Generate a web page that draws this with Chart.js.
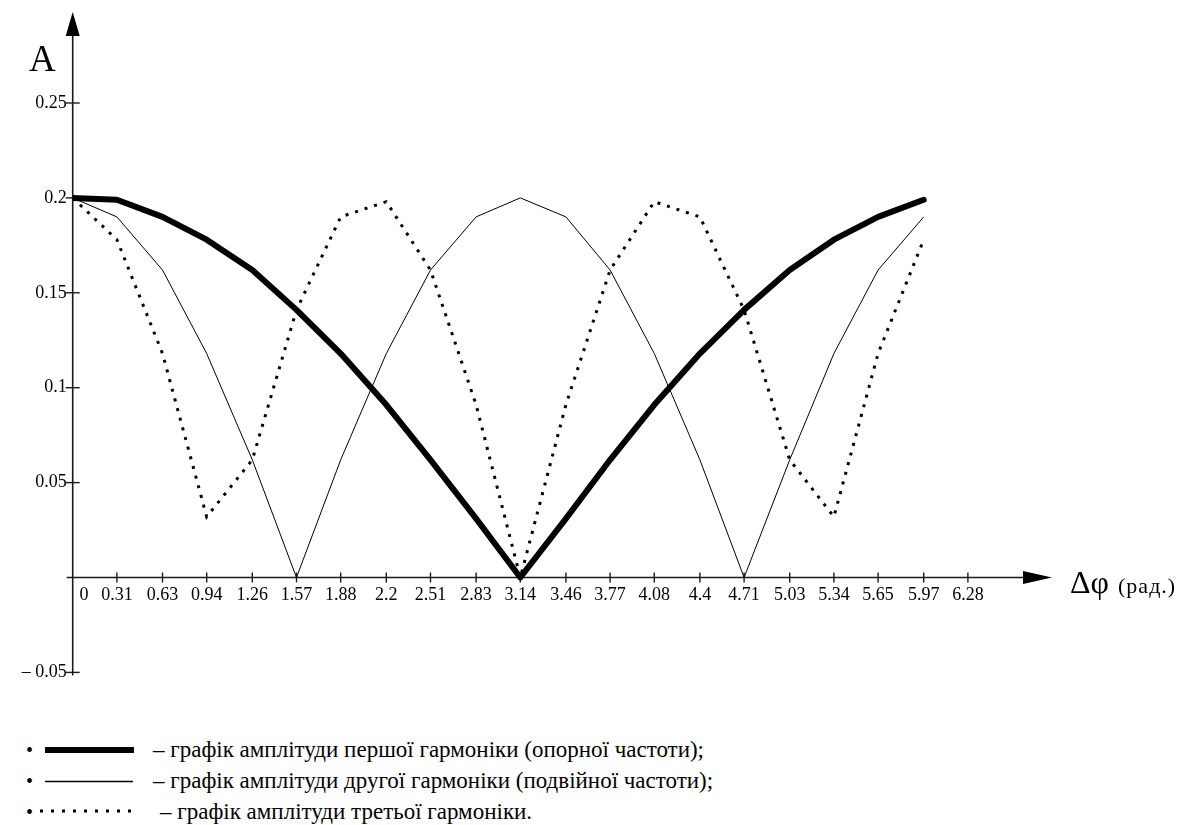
<!DOCTYPE html>
<html lang="uk">
<head>
<meta charset="utf-8">
<title>Амплітуди гармонік</title>
<script src="https://cdn.jsdelivr.net/npm/chart.js@4.4.1/dist/chart.umd.min.js"></script>
<style>
  html, body { margin: 0; padding: 0; background: #fff; }
  body {
    width: 1190px; height: 825px; position: relative; overflow: hidden;
    font-family: "Liberation Serif", "DejaVu Serif", serif; color: #000;
  }
  #chart { position: absolute; left: 0; top: 0; }
  .axis-name { position: absolute; line-height: 1; white-space: nowrap; }
  #nameA { left: 29px; top: 40px; font-size: 37px; }
  #namePhi { left: 1070px; top: 566px; font-size: 32px; }
  #namePhi span { font-size: 22px; letter-spacing: 1px; margin-left: 9px; }
  .row { position: absolute; left: 0; height: 30px; width: 1000px; white-space: nowrap; font-size: 23px; line-height: 30px; }
  .row .dot { position: absolute; left: 26px; top: 0; font-size: 20px; }
  .row svg { position: absolute; left: 0; top: 0; }
  .row .txt { position: absolute; top: 0; }
</style>
</head>
<body>
<canvas id="chart" width="1190" height="700"></canvas>
<div class="axis-name" id="nameA">A</div>
<div class="axis-name" id="namePhi">Δφ<span>(рад.)</span></div>
<div id="legend"></div>

<script>
// фазовий зсув, рад.
const phaseShift = [0, 0.31, 0.63, 0.94, 1.26, 1.57, 1.88, 2.2, 2.51, 2.83, 3.14, 3.46, 3.77, 4.08, 4.4, 4.71, 5.03, 5.34, 5.65, 5.97];
// амплітуди гармонік
const firstHarmonic = [0.2, 0.199, 0.19, 0.178, 0.162, 0.141, 0.118, 0.091, 0.062, 0.031, 0, 0.031, 0.062, 0.091, 0.118, 0.141, 0.162, 0.178, 0.19, 0.199];
const secondHarmonic = [0.2, 0.19, 0.162, 0.118, 0.062, 0, 0.062, 0.118, 0.162, 0.19, 0.2, 0.19, 0.162, 0.118, 0.062, 0, 0.062, 0.118, 0.162, 0.19];
const thirdHarmonic = [0.2, 0.178, 0.118, 0.032, 0.062, 0.141, 0.19, 0.198, 0.162, 0.091, 0, 0.091, 0.162, 0.198, 0.19, 0.141, 0.062, 0.032, 0.118, 0.178];
// підписи осей
const xTicks = [0, 0.31, 0.63, 0.94, 1.26, 1.57, 1.88, 2.2, 2.51, 2.83, 3.14, 3.46, 3.77, 4.08, 4.4, 4.71, 5.03, 5.34, 5.65, 5.97, 6.28];
const yTicks = [-0.05, 0.05, 0.1, 0.15, 0.2, 0.25];
const seriesNames = [
  "графік амплітуди першої гармоніки (опорної частоти);",
  "графік амплітуди другої гармоніки (подвійної частоти);",
  "графік амплітуди третьої гармоніки."
];

const toPoints = (ys) => phaseShift.map((x, i) => ({ x: x, y: ys[i] }));

// осі зі стрілками, що перетинаються в нулі
const crossAxes = {
  id: "crossAxes",
  beforeDatasetsDraw(chart) {
    const ctx = chart.ctx;
    const xs = chart.scales.x;
    const ys = chart.scales.y;
    const x0 = xs.getPixelForValue(0);
    const y0 = ys.getPixelForValue(0);
    ctx.save();
    ctx.strokeStyle = "#1a1a1a";
    ctx.fillStyle = "#000";
    ctx.lineWidth = 1.6;

    // горизонтальна вісь
    ctx.beginPath();
    ctx.moveTo(x0 - 6, y0);
    ctx.lineTo(xs.right - 20, y0);
    ctx.stroke();
    ctx.beginPath();
    ctx.moveTo(xs.right + 2, y0);
    ctx.lineTo(xs.right - 27, y0 - 6.5);
    ctx.lineTo(xs.right - 27, y0 + 6.5);
    ctx.closePath();
    ctx.fill();

    // вертикальна вісь
    const yBottom = ys.getPixelForValue(-0.05) + 3;
    ctx.beginPath();
    ctx.moveTo(x0, yBottom);
    ctx.lineTo(x0, ys.top + 16);
    ctx.stroke();
    ctx.beginPath();
    ctx.moveTo(x0, ys.top + 2);
    ctx.lineTo(x0 - 7, ys.top + 26);
    ctx.lineTo(x0 + 7, ys.top + 26);
    ctx.closePath();
    ctx.fill();

    // риски
    ctx.lineWidth = 1.4;
    xs.ticks.forEach((t) => {
      if (t.value === 0) return;
      const px = xs.getPixelForValue(t.value);
      ctx.beginPath();
      ctx.moveTo(px, y0 - 5);
      ctx.lineTo(px, y0 + 5);
      ctx.stroke();
    });
    ys.ticks.forEach((t) => {
      const py = ys.getPixelForValue(t.value);
      ctx.beginPath();
      ctx.moveTo(x0 - 7, py);
      ctx.lineTo(x0 + 7, py);
      ctx.stroke();
    });
    ctx.restore();
  }
};

const tickFont = { family: "'Liberation Serif', serif", size: 18 };

new Chart(document.getElementById("chart"), {
  type: "line",
  data: {
    datasets: [
      {
        label: seriesNames[0],
        data: toPoints(firstHarmonic),
        borderColor: "#000",
        borderWidth: 6,
        borderJoinStyle: "round",
        borderCapStyle: "round"
      },
      {
        label: seriesNames[1],
        data: toPoints(secondHarmonic),
        borderColor: "#000",
        borderWidth: 1
      },
      {
        label: seriesNames[2],
        data: toPoints(thirdHarmonic),
        borderColor: "#000",
        borderWidth: 3,
        borderDash: [3, 7],
        borderCapStyle: "butt"
      }
    ]
  },
  options: {
    responsive: false,
    animation: false,
    events: [],
    layout: { padding: { left: 0, right: 140, top: 10, bottom: 15 } },
    elements: { point: { radius: 0 }, line: { tension: 0, fill: false } },
    plugins: { legend: { display: false }, tooltip: { enabled: false } },
    scales: {
      x: {
        type: "linear",
        position: { y: 0 },
        min: 0,
        max: 6.856,
        border: { display: false },
        grid: { display: false, drawTicks: false },
        afterBuildTicks: (s) => { s.ticks = xTicks.map((v) => ({ value: v })); },
        afterFit: (s) => { s.height = 0; s.paddingLeft = 0; s.paddingRight = 0; },
        ticks: {
          autoSkip: false,
          maxRotation: 0,
          padding: 7,
          color: "#000",
          font: tickFont,
          callback: (v) => (v === 0 ? "     0" : String(v))
        }
      },
      y: {
        type: "linear",
        position: "left",
        min: -0.05664,
        max: 0.299,
        border: { display: false },
        grid: { display: false, drawTicks: false },
        afterBuildTicks: (s) => { s.ticks = yTicks.map((v) => ({ value: v })); },
        afterFit: (s) => { s.width = 72.7; s.paddingTop = 0; s.paddingBottom = 0; },
        ticks: {
          padding: 6,
          color: "#000",
          font: tickFont,
          callback: (v) => (v < 0 ? "– " + Math.abs(v) : String(v))
        }
      }
    }
  },
  plugins: [crossAxes]
});

// легенда під графіком
const legendRows = [
  { top: 735, line: '<line x1="45" y1="15" x2="134" y2="15" stroke="#000" stroke-width="6"/>', textLeft: 153 },
  { top: 766, line: '<line x1="45" y1="15.5" x2="133" y2="15.5" stroke="#000" stroke-width="1.6"/>', textLeft: 153 },
  { top: 797, line: '<line x1="40" y1="14" x2="138" y2="14" stroke="#000" stroke-width="3" stroke-dasharray="3 8"/>', textLeft: 160 }
];
const legend = document.getElementById("legend");
legendRows.forEach((r, i) => {
  const row = document.createElement("div");
  row.className = "row";
  row.style.top = r.top + "px";
  row.innerHTML =
    '<span class="dot">•</span>' +
    '<svg width="150" height="30">' + r.line + "</svg>" +
    '<span class="txt" style="left:' + r.textLeft + 'px">– ' + seriesNames[i] + "</span>";
  legend.appendChild(row);
});
</script>
</body>
</html>
